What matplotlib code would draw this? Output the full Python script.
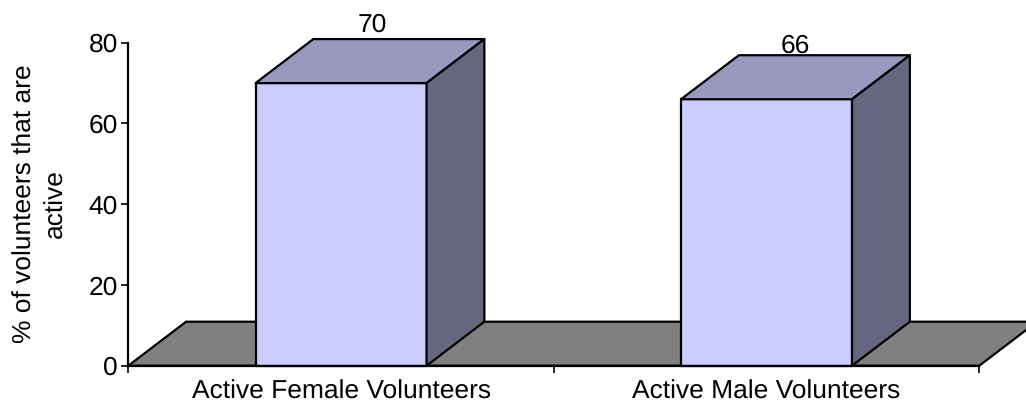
import matplotlib
matplotlib.use('Agg')
import matplotlib.pyplot as plt
from matplotlib.patches import Polygon

categories = ['Active Female Volunteers', 'Active Male Volunteers']
values = [70, 66]
yticks = [0, 20, 40, 60, 80]
ylabel = '% of volunteers that are\nactive'
# nudge of the value labels, in points
label_nudge = [(2, 5.5), (0, 2)]

plt.rcParams['font.family'] = ['Liberation Sans', 'DejaVu Sans']
plt.rcParams['text.hinting'] = 'no_hinting'

W, H = 1026, 404
fig = plt.figure(figsize=(W / 100, H / 100), dpi=100)
# front plane runs from x=128.3..979.3 px, y=0 at 365.7 px, y=80 at 42.7 px
ax = fig.add_axes([128.3 / W, 1 - 365.7 / H, 851 / W, 323 / H])
ax.set_xlim(0, 2)
ax.set_ylim(0, 80)
ax.patch.set_visible(False)

# depth offset in data units
dx = 57.8 / 851 * 2
dy = 44 / 323 * 80
bar_w = 171 / 851 * 2
lw = 1.6

ax.add_patch(Polygon([(0, 0), (dx, dy), (2 + dx, dy), (2, 0)], closed=True, fc='#808080', ec='black',
                     lw=lw, clip_on=False, zorder=1))

for i, v in enumerate(values):
    x0 = i + 0.5 - bar_w / 2
    x1 = x0 + bar_w
    ax.add_patch(Polygon([(x0, 0), (x1, 0), (x1, v), (x0, v)], closed=True, fc='#CCCCFF', ec='black',
                         lw=lw, clip_on=False, zorder=3, joinstyle='round'))
    ax.add_patch(Polygon([(x0, v), (x1, v), (x1 + dx, v + dy), (x0 + dx, v + dy)], closed=True, fc='#9999BF',
                         ec='black', lw=lw, clip_on=False, zorder=3, joinstyle='round'))
    ax.add_patch(Polygon([(x1, 0), (x1 + dx, dy), (x1 + dx, v + dy), (x1, v)], closed=True, fc='#666680',
                         ec='black', lw=lw, clip_on=False, zorder=3, joinstyle='round'))
    ax.annotate(str(v), (x0 + (bar_w + dx) / 2, v + dy), xytext=label_nudge[i], textcoords='offset points',
                ha='center', va='baseline', fontsize=19, zorder=4, annotation_clip=False)

for s in ['top', 'right']:
    ax.spines[s].set_visible(False)
ax.spines['left'].set_linewidth(lw)
ax.spines['bottom'].set_linewidth(lw)
ax.spines['left'].set_zorder(5)
ax.spines['bottom'].set_zorder(5)
ax.set_yticks(yticks)
ax.set_xticks([0, 1, 2])
ax.set_xticklabels([])
ax.set_xticks([0.5, 1.5], minor=True)
ax.set_xticklabels(categories, minor=True)
ax.tick_params(axis='x', which='minor', length=0, labelsize=19, pad=10)
ax.tick_params(axis='x', which='major', length=5, width=1.2, direction='out')
ax.tick_params(axis='y', length=5, width=1.2, labelsize=19, pad=2.5)
fig.text(40 / W, 1 - 204 / H, ylabel, rotation=90, ha='center', va='center', fontsize=19, linespacing=1.35)

fig.savefig('out.png', dpi=100)
